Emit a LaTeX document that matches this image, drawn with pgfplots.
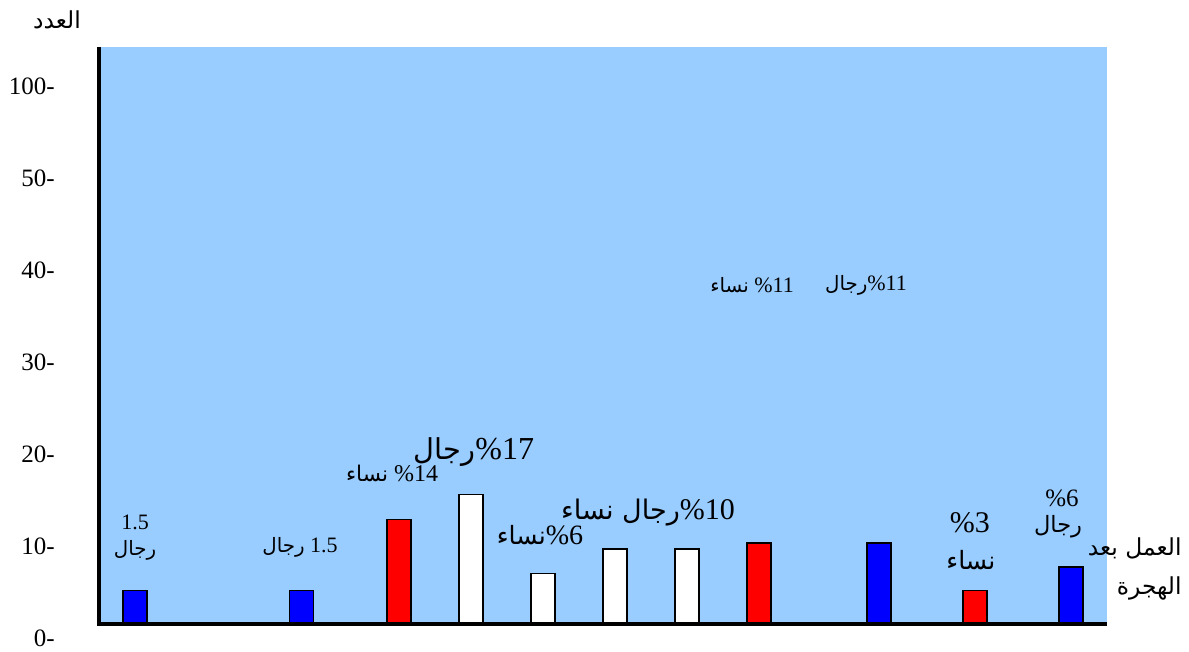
\documentclass[border=0pt]{standalone}
\usepackage{fontspec}
\setmainfont{Liberation Serif}
\newfontfamily\arabicfont[Script=Arabic,Scale=0.9]{DejaVu Sans}
\usepackage{pgfplots}
\pgfplotsset{compat=1.18}
\TeXXeTstate=1
\definecolor{skyfill}{HTML}{99CCFF}
\newcommand{\ar}[1]{{\arabicfont\beginR #1\endR}}
\newcommand{\fs}[1]{\fontsize{#1}{#1}\selectfont}

\begin{document}
\begin{tikzpicture}
\begin{axis}[
  at={(49.5pt,3.5pt)}, anchor=south west,
  scale only axis, width=504pt, height=299pt,
  xmin=0, xmax=42, ymin=-2.28, ymax=62.72,
  set layers,
  axis line style={draw=none},
  xtick=\empty,
  ytick={-1.6,8.4,18.4,28.4,38.4,48.4,58.4},
  yticklabels={0-,10-,20-,30-,40-,50-,100-},
  major tick length=0pt,
  yticklabel style={anchor=east, inner sep=0pt, xshift=-22pt, font=\fs{12.5}},
  clip=false,
]
% plot background
\pgfonlayer{axis background}
\fill[skyfill] (axis cs:0,0) rectangle (axis cs:42,62.72);
\endpgfonlayer

% men
\addplot[ybar, bar width=1, bar shift=0pt, fill=blue, draw=black, line width=0.6pt]
  coordinates {(1.5,3.6) (8.45,3.6) (32.5,8.8) (40.5,6.2)};
% women
\addplot[ybar, bar width=1, bar shift=0pt, fill=red, draw=black, line width=0.6pt]
  coordinates {(12.5,11.4) (27.5,8.8) (36.5,3.6)};
% unmarked
\addplot[ybar, bar width=1, bar shift=0pt, fill=white, draw=black, line width=0.6pt]
  coordinates {(15.5,14.1) (18.5,5.5) (21.5,8.15) (24.5,8.15)};

% axis lines
\draw[line width=1.6pt] (axis cs:0,62.72) -- (axis cs:0,0) -- (axis cs:42,0);

% annotations
\node[font=\fs{11}] at (axis cs:1.5,11.1) {1.5};
\node[font=\fs{11}] at (axis cs:1.5,8.04) {\ar{رجال}};
\node[font=\fs{11}] at (axis cs:8.375,8.37) {\ar{رجال} 1.5};
\node[font=\fs{12}] at (axis cs:12.21,16.41) {\ar{نساء} \%14};
\node[font=\fs{16}] at (axis cs:15.625,18.7) {\ar{رجال}\%17};
\node[font=\fs{14}] at (axis cs:18.375,9.67) {\ar{نساء}\%6};
\node[font=\fs{15}] at (axis cs:22.875,12.07) {\ar{رجال نساء}\%10};
\node[font=\fs{11}] at (axis cs:27.21,36.85) {\ar{نساء} \%11};
\node[font=\fs{11}] at (axis cs:31.96,36.85) {\ar{رجال}\%11};
\node[font=\fs{15}] at (axis cs:36.29,10.98) {\%3};
\node[font=\fs{14}] at (axis cs:36.33,6.96) {\ar{نساء}};
\node[font=\fs{12.5}] at (axis cs:40.125,13.7) {\%6};
\node[font=\fs{12.5}] at (axis cs:39.96,10.54) {\ar{رجال}};

% axis titles
\node[font=\fs{13}, anchor=east, inner sep=0pt] at (axis cs:45.125,8.26) {\ar{العمل بعد}};
\node[font=\fs{13}, anchor=east, inner sep=0pt] at (axis cs:45.125,3.91) {\ar{الهجرة}};
\node[font=\fs{13}] at (axis cs:-1.75,65.65) {\ar{العدد}};
\end{axis}
\pgfresetboundingbox
\path (0,0) rectangle (594.5pt,326pt);
\end{tikzpicture}
\end{document}
